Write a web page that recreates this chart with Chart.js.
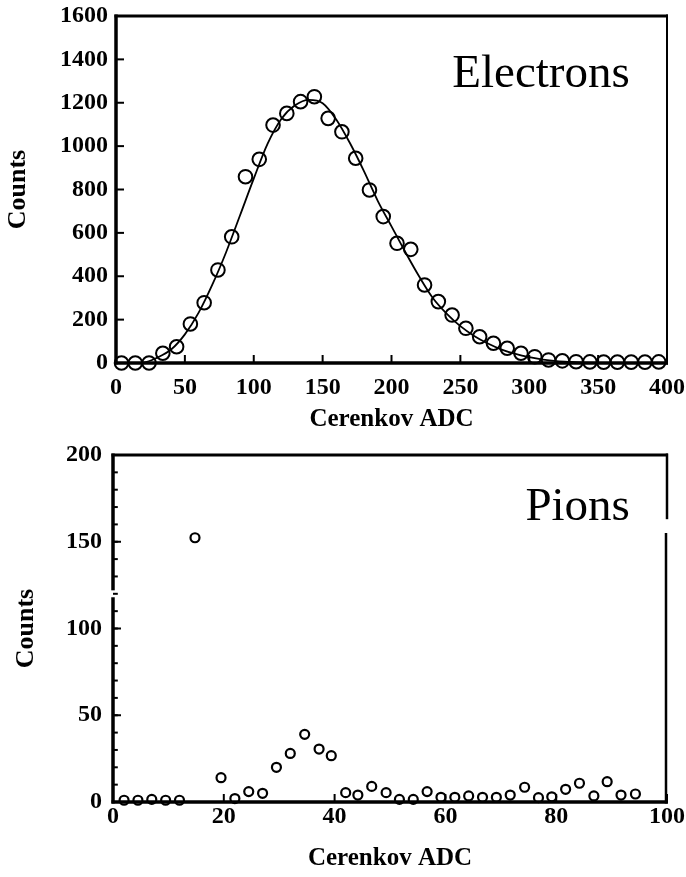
<!DOCTYPE html>
<html>
<head>
<meta charset="utf-8">
<script src="https://cdn.jsdelivr.net/npm/chart.js@4.4.0/dist/chart.umd.min.js"></script>
<style>
  html, body { margin: 0; padding: 0; background: #fff; }
  #wrap { position: relative; width: 686px; height: 877px; }
  .box { position: absolute; left: 0; width: 686px; }
  #topBox { top: 0; height: 440px; }
  #botBox { top: 440px; height: 437px; }
</style>
</head>
<body>
<div id="wrap">
  <div class="box" id="topBox"><canvas id="electronChart" width="686" height="440"></canvas></div>
  <div class="box" id="botBox"><canvas id="pionChart" width="686" height="437"></canvas></div>
</div>
<script>
// electrons: measured points
const electronAdc = [4, 14, 24, 34, 44, 54, 64, 74, 84, 94, 104, 114, 124, 134, 144, 154, 164, 174, 184, 194,
    204, 214, 224, 234, 244, 254, 264, 274, 284, 294, 304, 314, 324, 334, 344, 354, 364, 374, 384, 394];
const electronCounts = [0, 0, 0, 45, 75, 180, 278, 429, 582, 859, 939, 1097, 1151, 1205, 1228, 1128, 1066, 944, 798, 675,
    552, 524, 360, 283, 221, 160, 121, 91, 68, 45, 29, 14, 10, 6, 5, 4, 4, 4, 4, 5];

// electrons: fitted curve
const fitAdc = [0, 10, 20, 30, 40, 50, 60, 70, 80, 90, 100, 110, 120, 130, 140, 150, 160, 170, 180, 190,
    200, 210, 220, 230, 240, 250, 260, 270, 280, 290, 300, 310, 320, 330, 340, 360, 400];
const fitCounts = [0, 0, 2, 25, 62, 132, 232, 362, 512, 680, 850, 1010, 1125, 1188, 1213, 1198, 1122, 1012, 885, 748,
    630, 512, 400, 300, 228, 170, 125, 90, 62, 42, 27, 16, 9, 5, 2, 0, 0];

const electronXTicks = [0, 50, 100, 150, 200, 250, 300, 350, 400];
const electronYTicks = [0, 200, 400, 600, 800, 1000, 1200, 1400, 1600];

// pions
const pionAdc = [2, 4.5, 7, 9.5, 12, 14.8, 19.5, 22, 24.5, 27, 29.5, 32, 34.6, 37.2, 39.4, 42, 44.2, 46.7, 49.3, 51.7,
    54.2, 56.7, 59.2, 61.7, 64.2, 66.7, 69.2, 71.7, 74.3, 76.8, 79.2, 81.7, 84.2, 86.8, 89.2, 91.7, 94.3];
const pionCounts = [1, 1, 1.5, 1, 1, 152.3, 14, 2, 6, 5, 20, 28, 39, 30.5, 26.7, 5.4, 4, 9, 5.4, 1.5,
    1.5, 6, 2.7, 2.7, 3.5, 2.7, 2.7, 4, 8.5, 2.5, 3, 7.3, 10.8, 3.5, 11.7, 4, 4.6];

const pionXTicks = [0, 20, 40, 60, 80, 100];
const pionYTicks = [0, 50, 100, 150, 200];

const serif = "'Liberation Serif', 'Times New Roman', serif";

function toPoints(xs, ys) {
    return xs.map((x, i) => ({x: x, y: ys[i]}));
}

// draws the box, inward ticks, axis breaks and the corner label
const framePlugin = {
    id: 'frame',
    afterDatasetsDraw(chart, args, opts) {
        const {ctx, chartArea: a, scales: {x, y}} = chart;
        ctx.save();
        ctx.strokeStyle = '#000';
        ctx.lineCap = 'butt';

        function seg(x1, y1, x2, y2, w) {
            ctx.lineWidth = w;
            ctx.beginPath();
            ctx.moveTo(x1, y1);
            ctx.lineTo(x2, y2);
            ctx.stroke();
        }

        // ticks
        x.ticks.forEach(t => {
            const px = x.getPixelForValue(t.value);
            seg(px, a.bottom, px, a.bottom - opts.tickLen, 2);
        });
        y.ticks.forEach(t => {
            const py = y.getPixelForValue(t.value);
            seg(a.left, py, a.left + opts.tickLen, py, 2);
        });
        if (opts.minorY) {
            for (let v = y.min; v <= y.max; v += opts.minorY) {
                const py = y.getPixelForValue(v);
                seg(a.left, py, a.left + opts.tickLen * 0.6, py, 2);
            }
        }

        // top and bottom
        seg(a.left - 1.5, a.top, a.right + 1, a.top, 3);
        seg(a.left - 1.5, a.bottom, a.right + 1, a.bottom, 3.5);

        // left axis, maybe broken
        if (opts.leftGap) {
            const g1 = y.getPixelForValue(opts.leftGap[1]);
            const g0 = y.getPixelForValue(opts.leftGap[0]);
            seg(a.left, a.top - 1.5, a.left, g1, 3.5);
            seg(a.left, g0, a.left, a.bottom + 1.5, 3.5);
        } else {
            seg(a.left, a.top - 1.5, a.left, a.bottom + 1.5, 3.5);
        }

        // right side, maybe broken
        if (opts.rightGap) {
            const g1 = y.getPixelForValue(opts.rightGap[1]);
            const g0 = y.getPixelForValue(opts.rightGap[0]);
            seg(a.right, a.top - 1.5, a.right, g1, 2.5);
            seg(a.right - 1, g0, a.right - 1, a.bottom + 1.5, 2.5);
        } else {
            seg(a.right, a.top - 1.5, a.right, a.bottom + 1.5, 2);
        }

        // corner label
        ctx.fillStyle = '#000';
        ctx.font = opts.labelFont;
        ctx.textAlign = 'right';
        ctx.textBaseline = 'alphabetic';
        ctx.fillText(opts.label, x.getPixelForValue(opts.labelAt[0]), y.getPixelForValue(opts.labelAt[1]));
        ctx.restore();
    }
};

function axisOpts(min, max, tickList, fitSize, tickPad, lineHeight, title, titlePad) {
    return {
        type: 'linear',
        min: min,
        max: max,
        afterBuildTicks: s => { s.ticks = tickList.map(v => ({value: v})); },
        afterFit: s => { if (s.isHorizontal()) s.height = fitSize; else s.width = fitSize; },
        grid: {display: false, drawTicks: false},
        border: {display: false},
        ticks: {
            color: '#000',
            autoSkip: false,
            maxRotation: 0,
            padding: tickPad,
            callback: v => String(v),
            font: {family: serif, size: 24, weight: 'bold', lineHeight: lineHeight}
        },
        title: {
            display: true,
            text: title,
            color: '#000',
            padding: titlePad,
            font: {family: serif, size: title === 'Counts' ? 26 : 25, weight: 'bold'}
        }
    };
}

const electronChart = new Chart(document.getElementById('electronChart'), {
    type: 'scatter',
    data: {
        datasets: [{
            label: 'Fit',
            data: toPoints(fitAdc, fitCounts),
            showLine: true,
            pointRadius: 0,
            borderColor: '#000',
            borderWidth: 1.8,
            cubicInterpolationMode: 'monotone',
            clip: false
        }, {
            label: 'Electrons',
            data: toPoints(electronAdc, electronCounts),
            pointRadius: 6.8,
            pointBorderWidth: 2,
            borderColor: '#000',
            backgroundColor: 'rgba(0,0,0,0)',
            clip: false
        }]
    },
    options: {
        responsive: false,
        animation: false,
        devicePixelRatio: 1,
        layout: {padding: {top: 16, right: 19, left: 0, bottom: 0}},
        plugins: {
            legend: {display: false},
            tooltip: {enabled: false},
            frame: {
                tickLen: 8,
                label: 'Electrons',
                labelAt: [373, 1273],
                labelFont: "47px " + serif
            }
        },
        scales: {
            x: axisOpts(0, 400, electronXTicks, 77, 0, 2.03, 'Cerenkov ADC', {top: 0, bottom: 5}),
            y: axisOpts(0, 1600, electronYTicks, 116, 8, 0.1, 'Counts', {top: 3, bottom: 0})
        }
    },
    plugins: [framePlugin]
});

const pionChart = new Chart(document.getElementById('pionChart'), {
    type: 'scatter',
    data: {
        datasets: [{
            label: 'Pions',
            data: toPoints(pionAdc, pionCounts),
            pointRadius: 4.5,
            pointBorderWidth: 2.2,
            borderColor: '#000',
            backgroundColor: 'rgba(0,0,0,0)',
            clip: false
        }]
    },
    options: {
        responsive: false,
        animation: false,
        devicePixelRatio: 1,
        layout: {padding: {top: 15, right: 19, left: 0, bottom: 0}},
        plugins: {
            legend: {display: false},
            tooltip: {enabled: false},
            frame: {
                tickLen: 8,
                minorY: 10,
                leftGap: [118, 122],
                rightGap: [155, 163],
                label: 'Pions',
                labelAt: [93.3, 162.5],
                labelFont: "47px " + serif
            }
        },
        scales: {
            x: axisOpts(0, 100, pionXTicks, 75, 0, 1.2, 'Cerenkov ADC', {top: 0, bottom: 3}),
            y: axisOpts(0, 200, pionYTicks, 113, 11, 0.1, 'Counts', {top: 11, bottom: 0})
        }
    },
    plugins: [framePlugin]
});
</script>
</body>
</html>
